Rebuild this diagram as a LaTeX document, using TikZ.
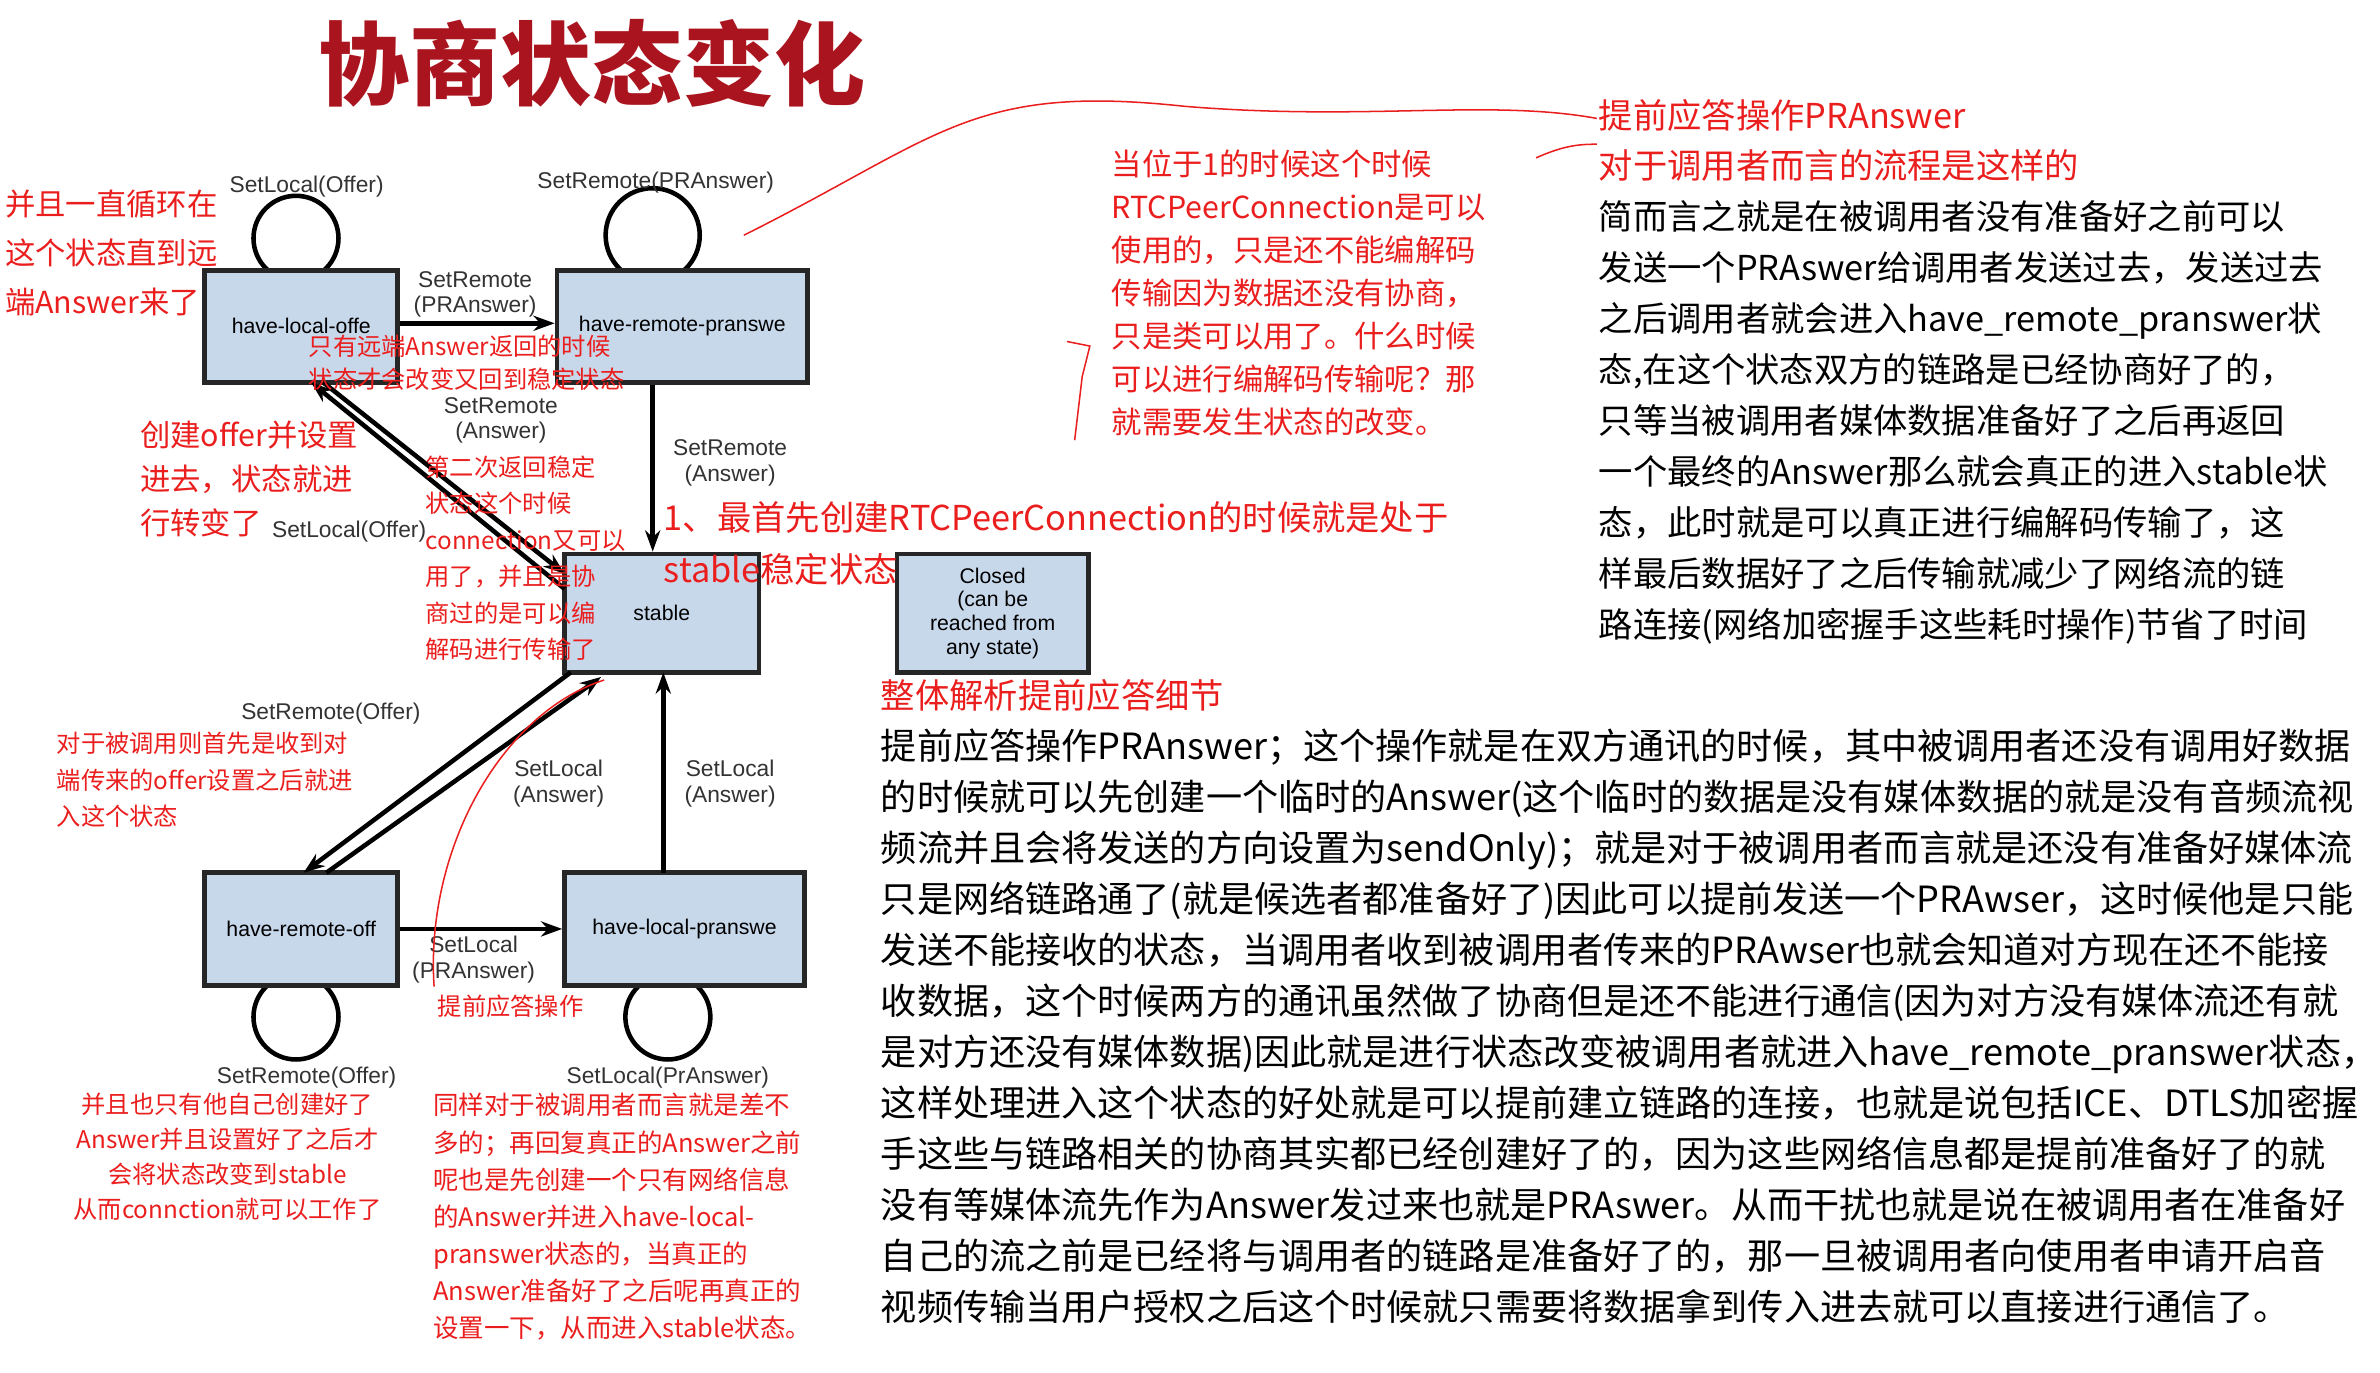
\documentclass[tikz,border=0pt]{standalone}
\usepackage{fontspec}
\setmainfont{Noto Sans CJK SC}
\newfontfamily\lab{Liberation Sans}
\usetikzlibrary{arrows.meta}
\definecolor{boxfill}{RGB}{200,216,235}
\definecolor{ann}{RGB}{235,30,30}
\definecolor{ttl}{RGB}{170,20,30}
\tikzset{
 st/.style={draw=black!85,line width=1.6pt,fill=boxfill,minimum width=#1*0.5pt,minimum height=37pt,inner sep=0pt,font=\lab\fontsize{7}{8}\selectfont},
 tr/.style={line width=1.5pt,-{Stealth[length=7pt,width=5pt]}},
 lp/.style={line width=1.5pt},
 lb/.style={font=\lab\fontsize{7.5}{8.5}\selectfont,align=center,text=black!80},
 rn/.style={anchor=north west,inner sep=0pt,align=left,text=ann},
 bk/.style={anchor=north west,inner sep=0pt,align=left,text=black},
 rl/.style={ann,line width=0.5pt}
}
\begin{document}
\begin{tikzpicture}[x=0.5pt,y=-0.5pt]
\useasboundingbox[fill=white] (0,0) rectangle (1568,904);
\node[text=ttl,font=\bfseries\fontsize{30}{32}\selectfont] (title) at (390,42) {协商状态变化};
% loops (drawn first, behind boxes)
\draw[lp] (195,157) circle[radius=14pt];
\draw[lp] (430,155) circle[radius=15.5pt];
\draw[lp] (195,670) circle[radius=14pt];
\draw[lp] (440,670) circle[radius=14pt];
% states
\node[st=127] (hlo) at (198.5,215) {have-local-offe};
\node[st=165] (hrp) at (449.5,215) {have-remote-pranswe};
\node[st=128,minimum height=39pt] (stb) at (436,404) {stable};
\node[st=126,minimum height=39pt,align=center,font=\lab\fontsize{7}{7.8}\selectfont] (cls) at (654,404) {Closed\\(can be\\reached from\\any state)};
\node[st=127] (hro) at (198.5,612) {have-remote-off};
\node[st=158] (hlp) at (451,612) {have-local-pranswe};
% transitions
\draw[tr] (hlo.east |- 0,213) -- (hrp.west |- 0,213);
\draw[tr] (hrp.south -| 430,0) -- (stb.north -| 430,0);
\draw[tr] (372,388) -- (205,252);
\draw[tr] (213,252) -- (372,378);
\draw[tr] (376,443) -- (200,575);
\draw[tr] (215,575) -- (396,446);
\draw[tr] (437,575) -- (437,443);
\draw[tr] (hro.east |- 0,612) -- (hlp.west |- 0,612);
% labels
\node[lb] at (202,123) {SetLocal(Offer)};
\node[lb] at (432,120) {SetRemote(PRAnswer)};
\node[lb] at (313,194) {SetRemote\\(PRAnswer)};
\node[lb] at (330,277) {SetRemote\\(Answer)};
\node[lb] at (481,305) {SetRemote\\(Answer)};
\node[lb] at (230,350) {SetLocal(Offer)};
\node[lb] at (218,470) {SetRemote(Offer)};
\node[lb] at (368,516) {SetLocal\\(Answer)};
\node[lb] at (481,516) {SetLocal\\(Answer)};
\node[lb] at (312,632) {SetLocal\\(PRAnswer)};
\node[lb] at (202,710) {SetRemote(Offer)};
\node[lb] at (440,710) {SetLocal(PrAnswer)};
% red annotations
\node[rn,font=\fontsize{10}{16}\selectfont] at (3,125) {并且一直循环在\\这个状态直到远\\端Answer来了};
\node[rn,font=\fontsize{8}{11}\selectfont] at (203,220) {只有远端Answer返回的时候\\状态才会改变又回到稳定状态};
\node[rn,font=\fontsize{10}{14.5}\selectfont] at (92,277) {创建offer并设置\\进去，状态就进\\行转变了};
\node[rn,font=\fontsize{8}{12}\selectfont] at (280,300) {第二次返回稳定\\状态这个时候\\connection又可以\\用了，并且是协\\商过的是可以编\\解码进行传输了};
\node[rn,font=\fontsize{11.3}{17}\selectfont] at (437,330) {1、最首先创建RTCPeerConnection的时候就是处于\\stable稳定状态};
\node[rn,font=\fontsize{10}{14.2}\selectfont] at (732,98) {当位于1的时候这个时候\\RTCPeerConnection是可以\\使用的，只是还不能编解码\\传输因为数据还没有协商，\\只是类可以用了。什么时候\\可以进行编解码传输呢？那\\就需要发生状态的改变。};
\node[rn,font=\fontsize{11.3}{16.5}\selectfont] at (1053,65) {提前应答操作PRAnswer\\对于调用者而言的流程是这样的};
\node[bk,font=\fontsize{11.3}{16.8}\selectfont] at (1053,132) {简而言之就是在被调用者没有准备好之前可以\\发送一个PRAswer给调用者发送过去，发送过去\\之后调用者就会进入have\_remote\_pranswer状\\态,在这个状态双方的链路是已经协商好了的，\\只等当被调用者媒体数据准备好了之后再返回\\一个最终的Answer那么就会真正的进入stable状\\态，此时就是可以真正进行编解码传输了，这\\样最后数据好了之后传输就减少了网络流的链\\路连接(网络加密握手这些耗时操作)节省了时间};
\node[rn,font=\fontsize{8}{12}\selectfont] at (37,482) {对于被调用则首先是收到对\\端传来的offer设置之后就进\\入这个状态};
\node[rn,font=\fontsize{8}{12}\selectfont] at (288,655) {提前应答操作};
\node[rn,font=\fontsize{8}{11.5}\selectfont,align=center] at (48,720) {并且也只有他自己创建好了\\Answer并且设置好了之后才\\会将状态改变到stable\\从而connction就可以工作了};
\node[rn,font=\fontsize{8.4}{12.2}\selectfont] at (285,720) {同样对于被调用者而言就是差不\\多的；再回复真正的Answer之前\\呢也是先创建一个只有网络信息\\的Answer并进入have-local-\\pranswer状态的，当真正的\\Answer准备好了之后呢再真正的\\设置一下，从而进入stable状态。};
\node[rn,font=\fontsize{11.3}{16}\selectfont] at (580,447) {整体解析提前应答细节};
\node[bk,font=\fontsize{11.9}{16.8}\selectfont] at (580,480) {提前应答操作PRAnswer；这个操作就是在双方通讯的时候，其中被调用者还没有调用好数据\\的时候就可以先创建一个临时的Answer(这个临时的数据是没有媒体数据的就是没有音频流视\\频流并且会将发送的方向设置为sendOnly)；就是对于被调用者而言就是还没有准备好媒体流\\只是网络链路通了(就是候选者都准备好了)因此可以提前发送一个PRAwser，这时候他是只能\\发送不能接收的状态，当调用者收到被调用者传来的PRAwser也就会知道对方现在还不能接\\收数据，这个时候两方的通讯虽然做了协商但是还不能进行通信(因为对方没有媒体流还有就\\是对方还没有媒体数据)因此就是进行状态改变被调用者就进入have\_remote\_pranswer状态，\\这样处理进入这个状态的好处就是可以提前建立链路的连接，也就是说包括ICE、DTLS加密握\\手这些与链路相关的协商其实都已经创建好了的，因为这些网络信息都是提前准备好了的就\\没有等媒体流先作为Answer发过来也就是PRAswer。从而干扰也就是说在被调用者在准备好\\自己的流之前是已经将与调用者的链路是准备好了的，那一旦被调用者向使用者申请开启音\\视频传输当用户授权之后这个时候就只需要将数据拿到传入进去就可以直接进行通信了。};
% red connector lines
\draw[rl] (490,155) .. controls (620,90) and (640,55) .. (780,70) .. controls (900,80) and (980,65) .. (1052,78);
\draw[rl] (1012,104) .. controls (1030,96) and (1040,95) .. (1052,95);
\draw[rl] (703,225) -- (718,228) -- (713,248) -- (708,290);
\draw[rl] (398,448) .. controls (330,470) and (280,560) .. (286,650);
\end{tikzpicture}
\end{document}
